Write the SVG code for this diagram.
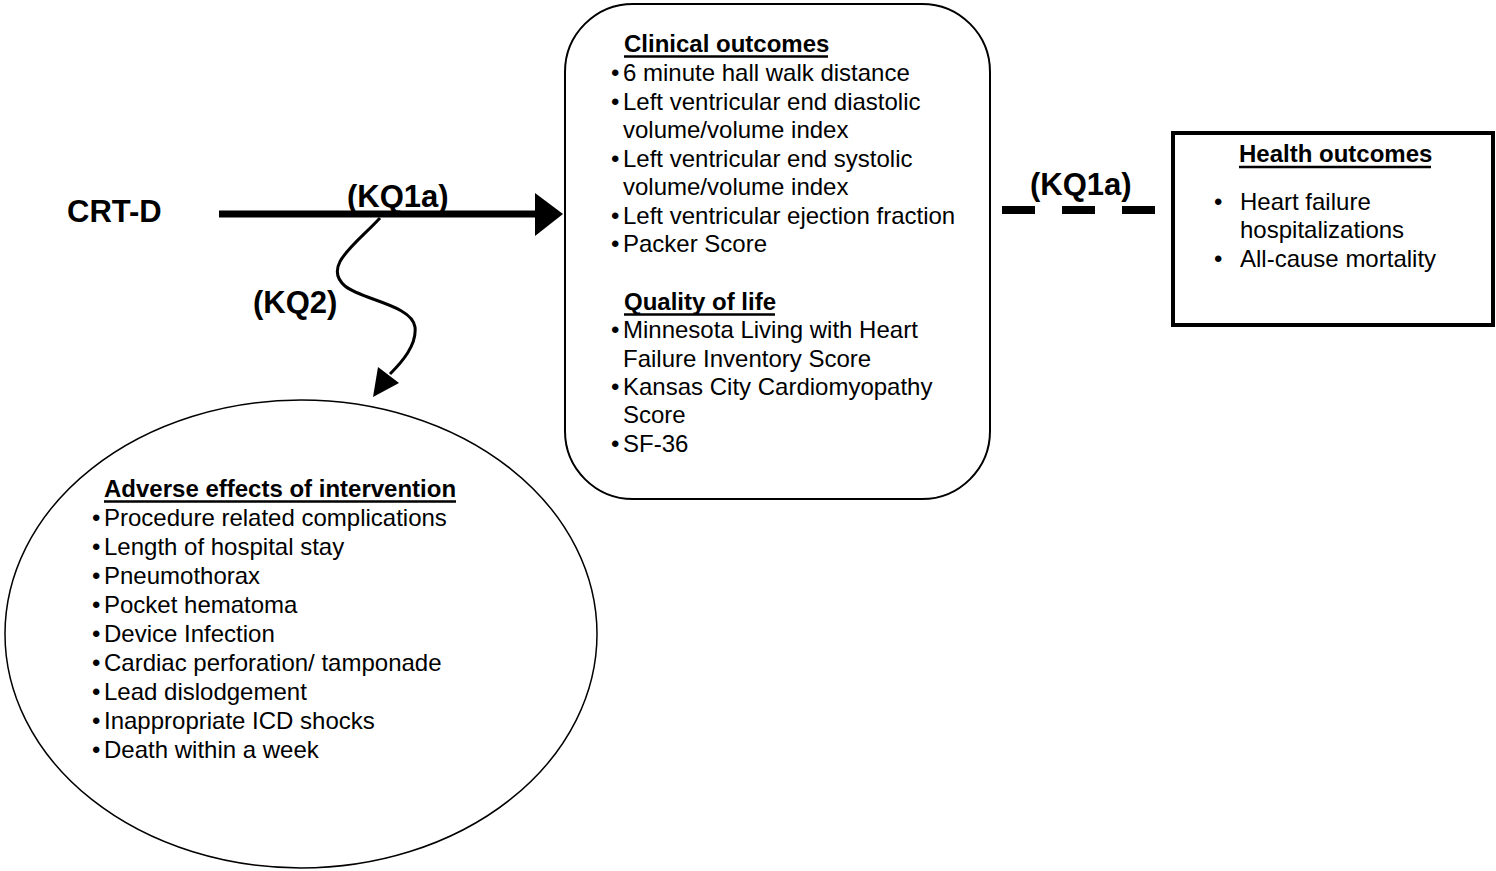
<svg xmlns="http://www.w3.org/2000/svg" width="1496" height="871" viewBox="0 0 1496 871">
<style>
text{font-family:"Liberation Sans",Arial,sans-serif;fill:#000}
.b{font-size:24px}
.h{font-size:24px;font-weight:bold}
.lab{font-size:31px;font-weight:bold}
.ul{stroke:#000;stroke-width:2.5}
</style>
<rect width="1496" height="871" fill="#fff"/>
<g id="connectors">
<line x1="219" y1="214" x2="537" y2="214" stroke="#000" stroke-width="7"/>
<polygon points="535,193 563,214 535,236" fill="#000"/>
<path d="M380,218 C355,245 322,266 345,286 C362,300 412,305 415,327 C417,345 402,362 390,374" fill="none" stroke="#000" stroke-width="3"/>
<polygon points="373,397 378,367 399,383" fill="#000"/>
<line x1="1002" y1="210" x2="1157" y2="210" stroke="#000" stroke-width="8" stroke-dasharray="33,27"/>
<text class="lab" x="347" y="207">(KQ1a)</text>
<text class="lab" x="253" y="313">(KQ2)</text>
<text class="lab" x="1030" y="195">(KQ1a)</text>
</g>
<g id="crtd">
<text class="lab" x="67" y="222">CRT-D</text>
</g>
<g id="clinical">
<rect x="565" y="4" width="425" height="495" rx="68" ry="68" fill="none" stroke="#000" stroke-width="2"/>
<text class="h" x="624" y="52">Clinical outcomes</text>
<line class="ul" x1="624" y1="56.5" x2="828" y2="56.5"/>
<g class="b">
<text x="611" y="81">•</text><text x="623" y="81">6 minute hall walk distance</text>
<text x="611" y="110">•</text><text x="623" y="110">Left ventricular end diastolic</text>
<text x="623" y="138">volume/volume index</text>
<text x="611" y="167">•</text><text x="623" y="167">Left ventricular end systolic</text>
<text x="623" y="195">volume/volume index</text>
<text x="611" y="224">•</text><text x="623" y="224">Left ventricular ejection fraction</text>
<text x="611" y="252">•</text><text x="623" y="252">Packer Score</text>
</g>
<text class="h" x="624" y="310">Quality of life</text>
<line class="ul" x1="624" y1="314.5" x2="775" y2="314.5"/>
<g class="b">
<text x="611" y="338">•</text><text x="623" y="338">Minnesota Living with Heart</text>
<text x="623" y="367">Failure Inventory Score</text>
<text x="611" y="395">•</text><text x="623" y="395">Kansas City Cardiomyopathy</text>
<text x="623" y="423">Score</text>
<text x="611" y="452">•</text><text x="623" y="452">SF-36</text>
</g>
</g>
<g id="health">
<rect x="1173" y="133" width="320" height="192" fill="none" stroke="#000" stroke-width="4"/>
<text class="h" x="1239" y="162">Health outcomes</text>
<line class="ul" x1="1239" y1="167" x2="1431" y2="167"/>
<g class="b">
<text x="1214" y="210">•</text><text x="1240" y="210">Heart failure</text>
<text x="1240" y="238">hospitalizations</text>
<text x="1214" y="267">•</text><text x="1240" y="267">All-cause mortality</text>
</g>
</g>
<g id="adverse">
<ellipse cx="301" cy="634" rx="296" ry="234" fill="none" stroke="#000" stroke-width="1.5"/>
<text class="h" x="104" y="497">Adverse effects of intervention</text>
<line class="ul" x1="104" y1="501.5" x2="456" y2="501.5"/>
<g class="b">
<text x="92" y="526">•</text><text x="104" y="526">Procedure related complications</text>
<text x="92" y="555">•</text><text x="104" y="555">Length of hospital stay</text>
<text x="92" y="584">•</text><text x="104" y="584">Pneumothorax</text>
<text x="92" y="613">•</text><text x="104" y="613">Pocket hematoma</text>
<text x="92" y="642">•</text><text x="104" y="642">Device Infection</text>
<text x="92" y="671">•</text><text x="104" y="671">Cardiac perforation/ tamponade</text>
<text x="92" y="700">•</text><text x="104" y="700">Lead dislodgement</text>
<text x="92" y="729">•</text><text x="104" y="729">Inappropriate ICD shocks</text>
<text x="92" y="758">•</text><text x="104" y="758">Death within a week</text>
</g>
</g>
</svg>
